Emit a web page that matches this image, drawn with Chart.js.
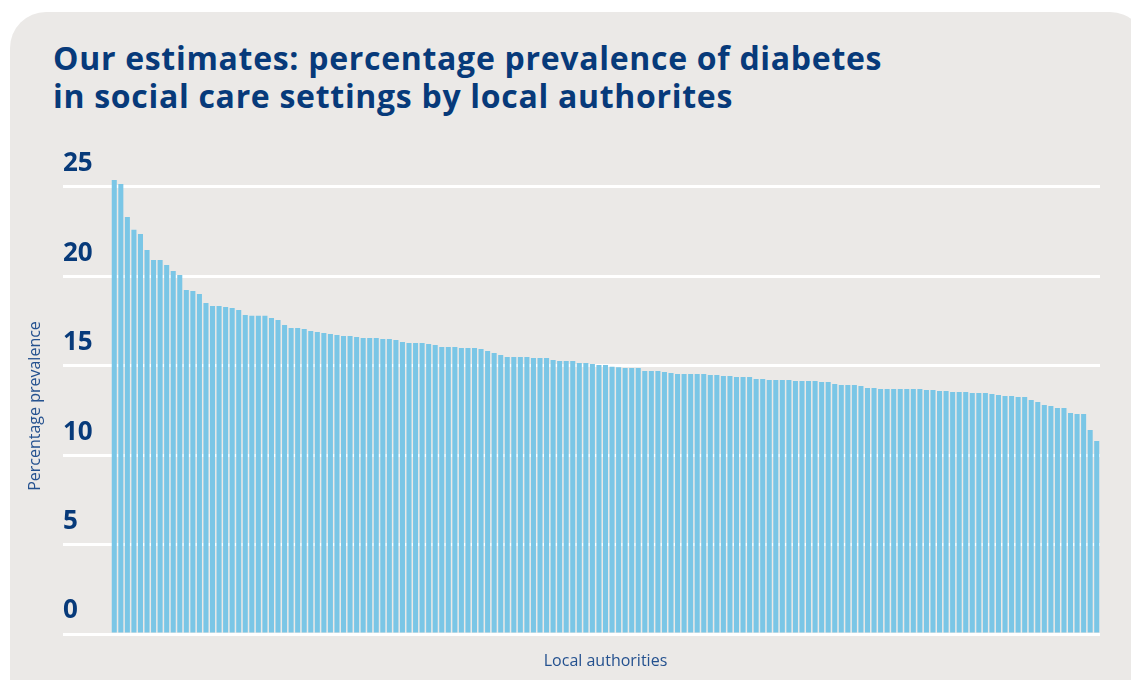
<!DOCTYPE html>
<html lang="en">
<head>
<meta charset="utf-8">
<title>Diabetes prevalence in social care settings</title>
<script src="https://cdn.jsdelivr.net/npm/chart.js@4.4.1/dist/chart.umd.min.js"></script>
<style>
  html, body { margin: 0; padding: 0; background: #ffffff; }
  body { width: 1131px; height: 680px; position: relative; overflow: hidden; font-family: "Open Sans", sans-serif; }
  .panel {
    position: absolute; left: 10px; top: 12px; width: 1136px; height: 720px;
    background: #ebe9e7; border-radius: 36px;
  }
  h1 {
    position: absolute; left: 53px; top: 39px; margin: 0;
    font-size: 32px; line-height: 37.6px; letter-spacing: 0.7px; font-weight: 700; color: #073a7a;
  }
  #chart { position: absolute; left: 0; top: 0; }
</style>
</head>
<body>
<div class="panel"></div>
<h1>Our estimates: percentage prevalence of diabetes<br>in social care settings by local authorites</h1>
<canvas id="chart" width="1131" height="680"></canvas>
<script>
// % prevalence per local authority, sorted high to low
const prevalence = [
  25.39, 25.17, 23.32, 22.60, 22.37, 21.48, 20.92, 20.92, 20.64, 20.30,
  20.08, 19.24, 19.18, 19.02, 18.51, 18.34, 18.34, 18.29, 18.23, 18.12,
  17.84, 17.79, 17.79, 17.79, 17.67, 17.56, 17.28, 17.11, 17.11, 17.06,
  16.95, 16.89, 16.83, 16.78, 16.72, 16.67, 16.67, 16.61, 16.55, 16.55,
  16.55, 16.50, 16.50, 16.44, 16.33, 16.28, 16.28, 16.28, 16.22, 16.16,
  16.05, 16.05, 16.05, 16.00, 16.00, 16.00, 15.94, 15.83, 15.72, 15.60,
  15.49, 15.49, 15.49, 15.49, 15.44, 15.44, 15.44, 15.32, 15.27, 15.27,
  15.27, 15.16, 15.16, 15.10, 15.04, 15.04, 14.95, 14.92, 14.88, 14.88,
  14.88, 14.71, 14.71, 14.71, 14.65, 14.60, 14.54, 14.54, 14.54, 14.54,
  14.54, 14.49, 14.49, 14.43, 14.43, 14.37, 14.37, 14.37, 14.26, 14.26,
  14.21, 14.21, 14.21, 14.21, 14.15, 14.15, 14.15, 14.15, 14.09, 14.09,
  13.98, 13.93, 13.93, 13.93, 13.87, 13.76, 13.76, 13.70, 13.70, 13.70,
  13.70, 13.70, 13.70, 13.70, 13.65, 13.65, 13.59, 13.59, 13.53, 13.53,
  13.53, 13.48, 13.48, 13.48, 13.42, 13.37, 13.31, 13.31, 13.26, 13.26,
  13.09, 12.98, 12.81, 12.75, 12.64, 12.64, 12.36, 12.30, 12.30, 11.41,
  10.79
];
const authorities = prevalence.map((_, i) => `LA ${i + 1}`);
const yTicks = [0, 5, 10, 15, 20, 25];

const navy = '#073a7a';
const axisBlue = '#24518f';

new Chart(document.getElementById('chart'), {
  type: 'bar',
  data: {
    labels: authorities,
    datasets: [{
      label: 'Percentage prevalence',
      data: prevalence,
      backgroundColor: '#7ac6e6',
      borderWidth: 0,
      categoryPercentage: 1,
      barPercentage: 0.77
    }]
  },
  options: {
    responsive: false,
    animation: false,
    layout: { padding: { left: 63, right: 31, top: 178, bottom: 0 } },
    plugins: {
      legend: { display: false },
      tooltip: { enabled: false }
    },
    scales: {
      x: {
        grid: { display: false },
        border: { display: false },
        ticks: { display: false },
        title: {
          display: true,
          text: 'Local authorities',
          color: axisBlue,
          font: { family: 'Open Sans', size: 16 },
          padding: { top: 0, bottom: 9 }
        },
        afterFit: scale => { scale.height = 46; }
      },
      y: {
        z: 1,
        min: 0,
        max: 25.5,
        afterBuildTicks: scale => { scale.ticks = yTicks.map(v => ({ value: v })); },
        grid: { color: '#ffffff', lineWidth: 3, tickLength: 48 },
        border: { display: false },
        ticks: {
          includeBounds: false,
          crossAlign: 'far',
          labelOffset: -23,
          color: navy,
          font: { family: 'Open Sans', size: 26, weight: 'bold' }
        },
        title: {
          display: true,
          text: 'Percentage prevalence',
          color: axisBlue,
          font: { family: 'Open Sans', size: 16 },
          padding: { top: -37, bottom: 0 }
        },
        afterFit: scale => { scale.width = 48; }
      }
    }
  }
});
</script>
</body>
</html>
